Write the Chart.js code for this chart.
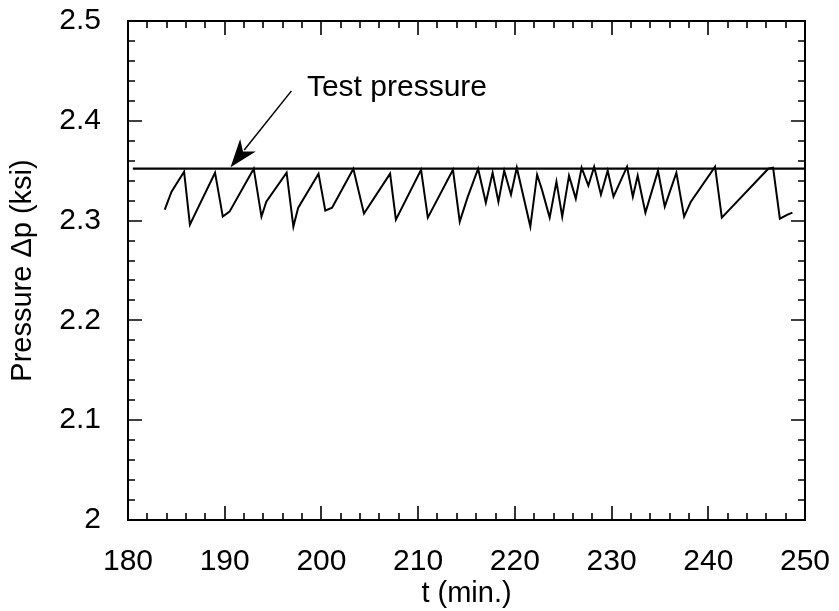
<!DOCTYPE html>
<html>
<head>
<meta charset="utf-8">
<script src="https://cdn.jsdelivr.net/npm/chart.js@4.4.1/dist/chart.umd.min.js"></script>
<style>
  html, body { margin: 0; padding: 0; background: #fff; }
  #wrap { width: 839px; height: 611px; position: relative; }
</style>
</head>
<body>
<div id="wrap"><canvas id="c" width="839" height="611"></canvas></div>
<script>
// ---- data ----
const timeMin = [183.8,184.5,185.8,186.4,187.0,189.0,189.8,190.5,193.0,193.8,194.3,196.4,197.1,197.6,199.7,200.4,201.1,203.3,204.4,207.1,207.7,210.3,211.0,213.6,214.3,215.1,216.2,217.0,217.7,218.3,218.9,219.6,220.2,221.6,222.3,222.8,223.6,224.3,224.9,225.6,226.3,226.9,227.6,228.2,228.9,229.6,230.2,231.6,232.2,232.7,233.5,234.8,235.5,236.7,237.5,238.2,240.7,241.4,246.2,246.7,247.4,248.2,248.7];
const pressureKsi = [2.311,2.329,2.349,2.296,2.308,2.348,2.304,2.309,2.352,2.304,2.319,2.348,2.294,2.313,2.347,2.310,2.313,2.352,2.307,2.347,2.301,2.351,2.303,2.351,2.299,2.323,2.352,2.318,2.348,2.319,2.350,2.326,2.353,2.294,2.346,2.331,2.303,2.339,2.304,2.345,2.322,2.353,2.335,2.354,2.326,2.350,2.324,2.354,2.324,2.345,2.308,2.350,2.314,2.348,2.304,2.319,2.354,2.303,2.352,2.353,2.302,2.306,2.308];
const testPressure = 2.352;
const testLineTimes = [180.5, 250];
const xTickLabels = [180,190,200,210,220,230,240,250];
const yTickLabels = [2,2.1,2.2,2.3,2.4,2.5];
const annotationText = "Test pressure";
const annotationTextAt = [198.5, 2.425];   // [t, p] left/baseline of text
const arrowTail = [196.9, 2.430];
const arrowTip = [190.6, 2.3535];

const FONT = "'Liberation Sans', Arial, Helvetica, sans-serif";

const lineData = timeMin.map((t, i) => ({x: t, y: pressureKsi[i]}));
const testData = testLineTimes.map(t => ({x: t, y: testPressure}));

const framePlugin = {
  id: 'frame',
  afterDraw(chart) {
    const ctx = chart.ctx;
    const xs = chart.scales.x, ys = chart.scales.y;
    const a = chart.chartArea;
    ctx.save();
    ctx.strokeStyle = '#000';
    ctx.lineWidth = 2;
    ctx.strokeRect(a.left, a.top, a.right - a.left, a.bottom - a.top);
    ctx.lineWidth = 1.6;
    const maj = 14, mnr = 7;
    for (let v = 180; v <= 250.001; v += 2) {
      const px = Math.round(xs.getPixelForValue(v));
      const L = (Math.abs(v % 10) < 1e-6) ? maj : mnr;
      ctx.beginPath();
      ctx.moveTo(px, a.bottom); ctx.lineTo(px, a.bottom - L);
      ctx.moveTo(px, a.top); ctx.lineTo(px, a.top + L);
      ctx.stroke();
    }
    for (let k = 0; k <= 25; k++) {
      const v = 2 + k * 0.02;
      const py = Math.round(ys.getPixelForValue(v));
      const L = (k % 5 === 0) ? maj : mnr;
      ctx.beginPath();
      ctx.moveTo(a.left, py); ctx.lineTo(a.left + L, py);
      ctx.moveTo(a.right, py); ctx.lineTo(a.right - L, py);
      ctx.stroke();
    }
    const tx = xs.getPixelForValue(arrowTail[0]), ty = ys.getPixelForValue(arrowTail[1]);
    const hx = xs.getPixelForValue(arrowTip[0]), hy = ys.getPixelForValue(arrowTip[1]);
    const ang = Math.atan2(hy - ty, hx - tx);
    const hl = 28, hw = 10;
    const bx = hx - hl * Math.cos(ang), by = hy - hl * Math.sin(ang);
    ctx.lineWidth = 1.5;
    ctx.beginPath(); ctx.moveTo(tx, ty); ctx.lineTo(bx + 6 * Math.cos(ang), by + 6 * Math.sin(ang)); ctx.stroke();
    ctx.fillStyle = '#000';
    ctx.beginPath();
    ctx.moveTo(hx, hy);
    ctx.lineTo(bx - hw * Math.sin(ang), by + hw * Math.cos(ang));
    ctx.lineTo(bx + 8 * Math.cos(ang), by + 8 * Math.sin(ang));
    ctx.lineTo(bx + hw * Math.sin(ang), by - hw * Math.cos(ang));
    ctx.closePath();
    ctx.fill();
    ctx.font = '30px ' + FONT;
    ctx.textAlign = 'left';
    ctx.textBaseline = 'alphabetic';
    ctx.fillText(annotationText, xs.getPixelForValue(annotationTextAt[0]), ys.getPixelForValue(annotationTextAt[1]));
    ctx.restore();
  }
};

new Chart(document.getElementById('c'), {
  type: 'line',
  data: {
    datasets: [
      { data: lineData, borderColor: '#000', borderWidth: 2, pointRadius: 0, tension: 0, fill: false },
      { data: testData, borderColor: '#000', borderWidth: 2.2, pointRadius: 0, tension: 0, fill: false }
    ]
  },
  options: {
    responsive: false,
    animation: false,
    events: [],
    layout: { padding: { left: 6, right: 34, top: 21, bottom: 0 } },
    plugins: { legend: { display: false }, tooltip: { enabled: false } },
    scales: {
      x: {
        type: 'linear', min: 180, max: 250,
        afterBuildTicks: s => { s.ticks = xTickLabels.map(v => ({value: v})); },
        afterFit: s => { s.height = 91; s.paddingLeft = 0; s.paddingRight = 0; },
        grid: { display: false, drawTicks: false },
        border: { display: false },
        ticks: { color: '#000', padding: 24, maxRotation: 0, font: { family: FONT, size: 30 }, callback: v => String(v) },
        title: { display: true, text: 't (min.)', color: '#000', padding: { top: 0, bottom: 0 }, font: { family: FONT, size: 29 } }
      },
      y: {
        type: 'linear', min: 2, max: 2.5,
        afterBuildTicks: s => { s.ticks = yTickLabels.map(v => ({value: v})); },
        afterFit: s => { s.width = 122; s.paddingTop = 0; s.paddingBottom = 0; },
        grid: { display: false, drawTicks: false },
        border: { display: false },
        ticks: { color: '#000', padding: 27, font: { family: FONT, size: 30 }, callback: v => String(Number(v.toFixed(1))) },
        title: { display: true, text: 'Pressure Δp (ksi)', color: '#000', padding: { top: 0, bottom: 0 }, font: { family: FONT, size: 29 } }
      }
    }
  },
  plugins: [framePlugin]
});
</script>
</body>
</html>
